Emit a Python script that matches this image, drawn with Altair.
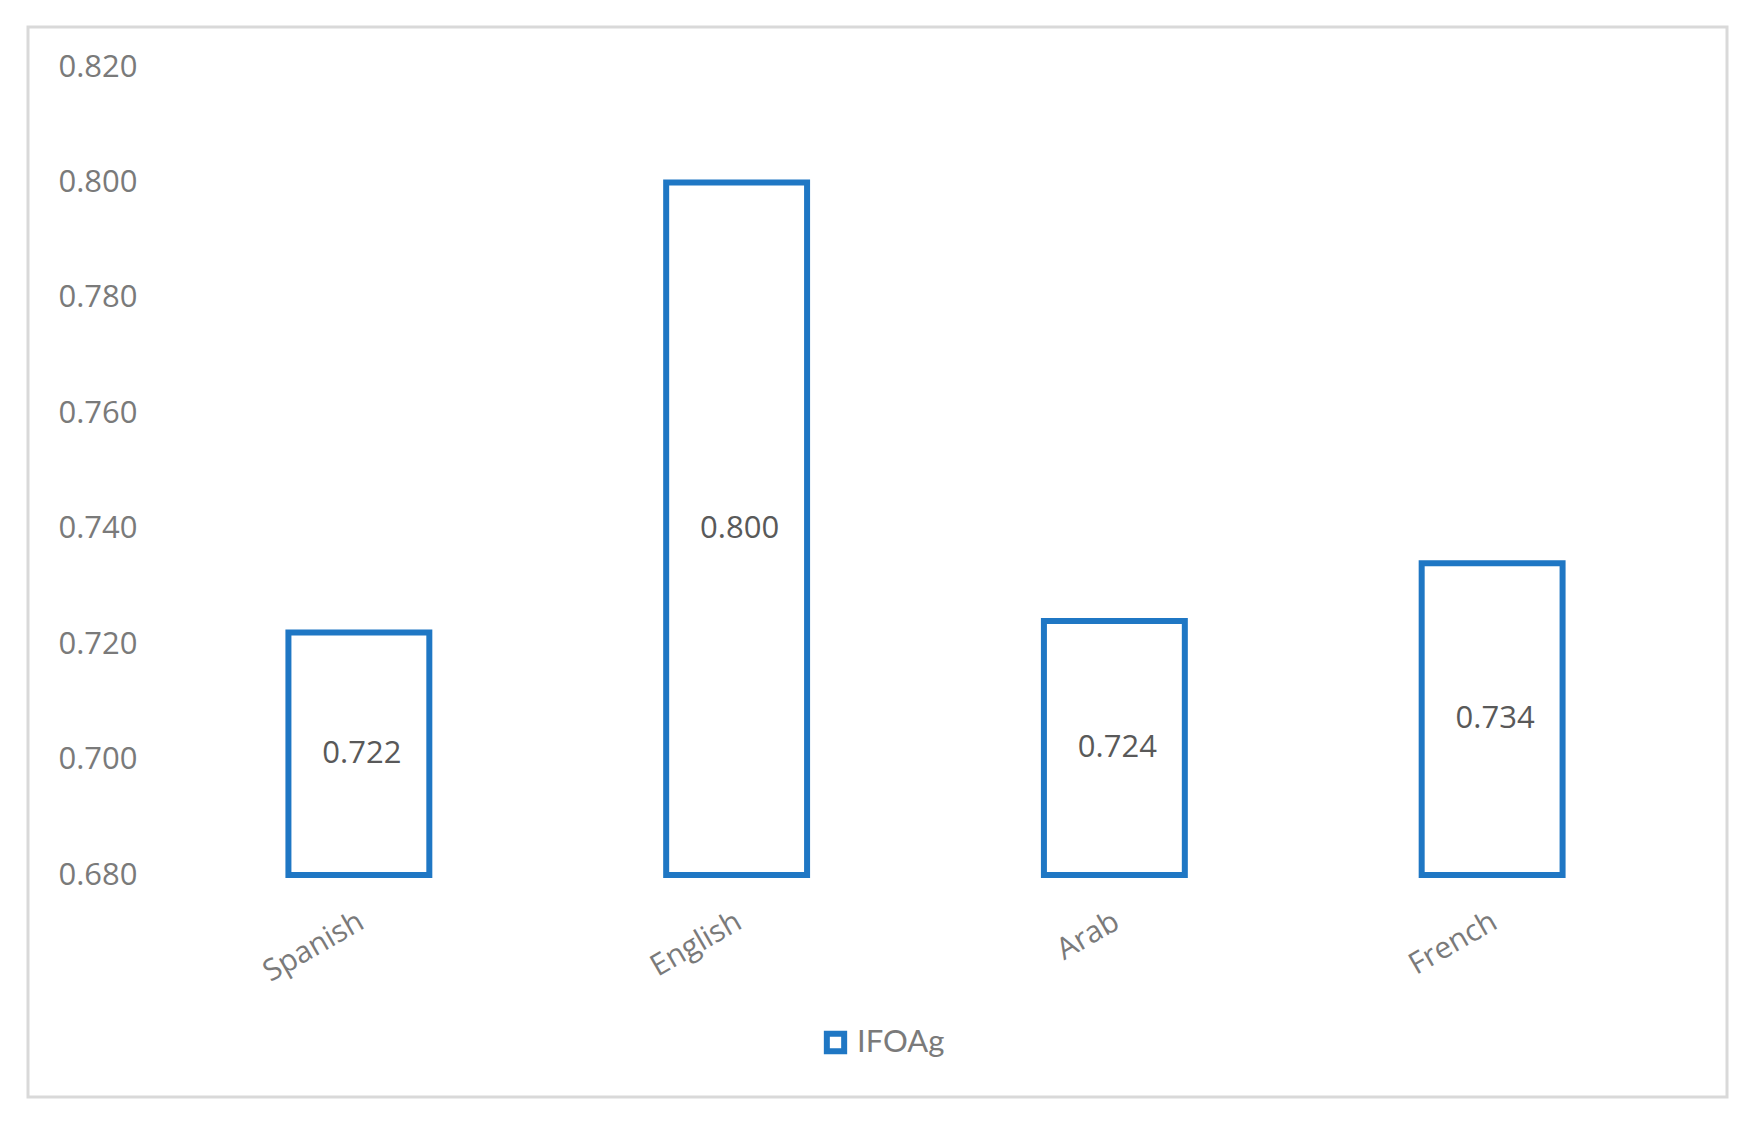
import altair as alt
import pandas as pd

languages = ["Spanish", "English", "Arab", "French"]
values = [0.722, 0.800, 0.724, 0.734]
series = ["IFOAg"] * 4

df = pd.DataFrame({"lang": languages, "value": values, "series": series})

BLUE = "#1f77c4"
W, H = 1511, 808

x_enc = alt.X("lang:N", sort=languages,
              scale=alt.Scale(paddingInner=0.627, paddingOuter=0.3135),
              axis=alt.Axis(title=None, labelAngle=330, labelFont="Open Sans",
                            labelFontSize=30, labelColor="#7a7a7a", domain=False,
                            ticks=False, labelPadding=31, labelOffset=-5))
y_scale = alt.Scale(domain=[0.68, 0.82], zero=False, nice=False)

frame = alt.Chart(pd.DataFrame({"a": [1]})).mark_rect(
    fill=None, stroke="#d9d9d9", strokeWidth=3
).encode(x=alt.value(-142), x2=alt.value(1557), y=alt.value(-40), y2=alt.value(1030))

bars = alt.Chart(df).mark_bar(fill="white", strokeWidth=6).encode(
    x=x_enc,
    y=alt.Y("value:Q", scale=y_scale,
            axis=alt.Axis(title=None, values=[0.68, 0.70, 0.72, 0.74, 0.76, 0.78, 0.80, 0.82],
                          format=".3f", grid=False, domain=False, ticks=False,
                          labelFont="Open Sans", labelFontSize=31, labelColor="#7a7a7a",
                          labelPadding=33)),
    y2=alt.datum(0.68),
    stroke=alt.Stroke("series:N", scale=alt.Scale(range=[BLUE]),
                      legend=alt.Legend(title=None, orient="none", legendX=650, legendY=960,
                                        symbolType="square", symbolSize=300,
                                        symbolStrokeWidth=6, symbolFillColor="white",
                                        labelFont="Lato", labelFontSize=31,
                                        labelColor="#7a7a7a", labelOffset=6)),
)

labels = alt.Chart(df).transform_calculate(
    mid="(datum.value + 0.68) / 2"
).mark_text(font="Open Sans", fontSize=31, color="#595959", dx=3).encode(
    x=alt.X("lang:N", sort=languages),
    y=alt.Y("mid:Q", scale=y_scale),
    text=alt.Text("value:Q", format=".3f"),
)

chart = alt.layer(frame, bars, labels).properties(
    width=W, height=H,
    background="white",
    autosize=alt.AutoSizeParams(type="none"),
    padding={"left": 162, "top": 59, "right": 50, "bottom": 236},
).configure_view(strokeWidth=0, stroke="transparent")

chart.save("out.html", embed_options={"renderer": "svg", "actions": False})
